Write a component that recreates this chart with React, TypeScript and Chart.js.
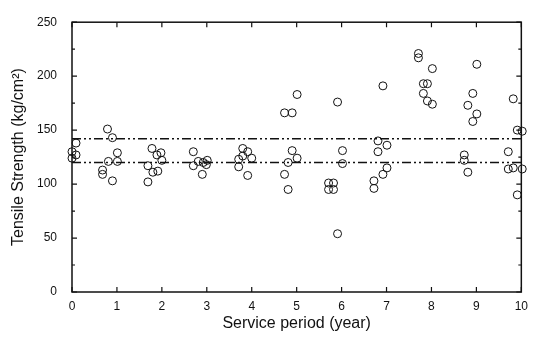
import React, { useEffect, useRef } from 'react';
import { Chart, registerables } from 'chart.js';

Chart.register(...registerables);

// Service period (year) of each specimen
const serviceYears = [
  0.09, 0.0, 0.09, 0.0,
  0.79, 0.9, 1.01, 0.81, 1.01, 0.68, 0.68, 0.9,
  1.78, 1.98, 1.89, 2.0, 1.69, 1.91, 1.8, 1.69,
  2.7, 2.81, 2.92, 3.01, 2.99, 2.7, 2.9,
  3.8, 3.91, 3.8, 4.0, 3.71, 3.71, 3.91,
  5.01, 4.73, 4.9, 4.9, 5.01, 4.81, 4.73, 4.81,
  5.91, 6.02, 6.02, 5.71, 5.82, 5.71, 5.82, 5.91,
  6.92, 6.81, 7.01, 6.81, 7.01, 6.92, 6.72, 6.72,
  7.71, 7.71, 8.02, 7.82, 7.91, 7.82, 7.91, 8.02,
  9.01, 8.92, 8.81, 9.01, 8.92, 8.73, 8.73, 8.81,
  9.82, 9.91, 10.02, 9.71, 9.71, 9.82, 10.02, 9.91,
];

// Tensile strength (kg/cm²)
const tensileStrength = [
  138, 130, 127, 124,
  151, 143, 129, 121, 121, 113, 109, 103,
  133, 129, 127, 122, 117, 112, 111, 102,
  130, 121, 120, 122, 118, 117, 109,
  133, 130, 126, 124, 123, 116, 108,
  183, 166, 166, 131, 124, 120, 109, 95,
  176, 131, 119, 101, 101, 95, 95, 54,
  191, 140, 136, 130, 115, 109, 103, 96,
  221, 217, 207, 193, 193, 184, 177, 174,
  211, 184, 173, 165, 158, 127, 122, 111,
  179, 150, 149, 130, 114, 115, 114, 90,
];

const upperLimit = 142;
const lowerLimit = 120;
const xRange = [0, 10];
const yRange = [0, 250];
const xMajorTicks = [0, 1, 2, 3, 4, 5, 6, 7, 8, 9, 10];
const yMajorTicks = [0, 50, 100, 150, 200, 250];
const yMinorTicks = [25, 75, 125, 175, 225];

const FONT = "Arial, 'Liberation Sans', Helvetica, sans-serif";

const framePlugin = {
  id: 'frameTicks',
  beforeDatasetsDraw(chart: any) {
    const { ctx, chartArea, scales } = chart;
    const { left, right, top, bottom } = chartArea;
    const xs = scales.x;
    const ys = scales.y;
    ctx.save();
    ctx.strokeStyle = '#111';
    ctx.lineWidth = 1.5;
    ctx.strokeRect(left, top, right - left, bottom - top);
    ctx.lineWidth = 1.2;
    ctx.beginPath();
    for (const v of xMajorTicks) {
      const px = xs.getPixelForValue(v);
      ctx.moveTo(px, bottom);
      ctx.lineTo(px, bottom - 5);
      ctx.moveTo(px, top);
      ctx.lineTo(px, top + 5);
    }
    for (const v of yMajorTicks) {
      const py = ys.getPixelForValue(v);
      ctx.moveTo(left, py);
      ctx.lineTo(left + 5, py);
      ctx.moveTo(right, py);
      ctx.lineTo(right - 5, py);
    }
    for (const v of yMinorTicks) {
      const py = ys.getPixelForValue(v);
      ctx.moveTo(left, py);
      ctx.lineTo(left + 3, py);
      ctx.moveTo(right, py);
      ctx.lineTo(right - 3, py);
    }
    ctx.stroke();
    ctx.restore();
  },
};

export default function App() {
  const canvasRef = useRef<HTMLCanvasElement | null>(null);

  useEffect(() => {
    const canvas = canvasRef.current;
    if (!canvas) return;
    const points = serviceYears.map((x, i) => ({ x, y: tensileStrength[i] }));
    const dash = [9, 3, 2, 3, 2, 3];
    const chart = new Chart(canvas, {
      type: 'scatter',
      data: {
        datasets: [
          {
            label: 'upper',
            data: [
              { x: xRange[0], y: upperLimit },
              { x: xRange[1], y: upperLimit },
            ],
            showLine: true,
            borderColor: '#111',
            borderWidth: 1.6,
            borderDash: dash,
            pointRadius: 0,
          } as any,
          {
            label: 'lower',
            data: [
              { x: xRange[0], y: lowerLimit },
              { x: xRange[1], y: lowerLimit },
            ],
            showLine: true,
            borderColor: '#111',
            borderWidth: 1.6,
            borderDash: dash,
            pointRadius: 0,
          } as any,
          {
            label: 'strength',
            data: points,
            pointRadius: 4,
            pointBorderWidth: 1,
            pointBorderColor: '#111',
            pointBackgroundColor: 'rgba(255,255,255,0)',
            clip: false,
          } as any,
        ],
      },
      options: {
        animation: false,
        responsive: false,
        maintainAspectRatio: false,
        layout: { padding: { top: 14, right: 8, left: 0, bottom: 0 } },
        plugins: {
          legend: { display: false },
          tooltip: { enabled: false },
        },
        scales: {
          x: {
            type: 'linear',
            min: xRange[0],
            max: xRange[1],
            grid: { display: false, drawTicks: false },
            border: { display: false },
            ticks: {
              stepSize: 1,
              padding: 7,
              color: '#111',
              font: { family: FONT, size: 12 },
              maxRotation: 0,
            },
            title: {
              display: true,
              text: 'Service period (year)',
              color: '#111',
              font: { family: FONT, size: 16 },
              padding: { top: 0, bottom: 9 },
            },
            afterFit: (scale: any) => {
              scale.height = 50;
            },
          },
          y: {
            type: 'linear',
            min: yRange[0],
            max: yRange[1],
            grid: { display: false, drawTicks: false },
            border: { display: false },
            ticks: {
              stepSize: 50,
              padding: 15,
              color: '#111',
              font: { family: FONT, size: 12 },
            },
            title: {
              display: true,
              text: 'Tensile Strength (kg/cm²)',
              color: '#111',
              font: { family: FONT, size: 16 },
              padding: { top: 9, bottom: 0 },
            },
            afterFit: (scale: any) => {
              scale.width = 72;
            },
          },
        },
      },
      plugins: [framePlugin],
    });
    return () => chart.destroy();
  }, []);

  return (
    <div style={{ position: 'absolute', left: 0, top: 0, width: 535, height: 342, background: '#fff' }}>
      <canvas ref={canvasRef} width={535} height={342} />
    </div>
  );
}
